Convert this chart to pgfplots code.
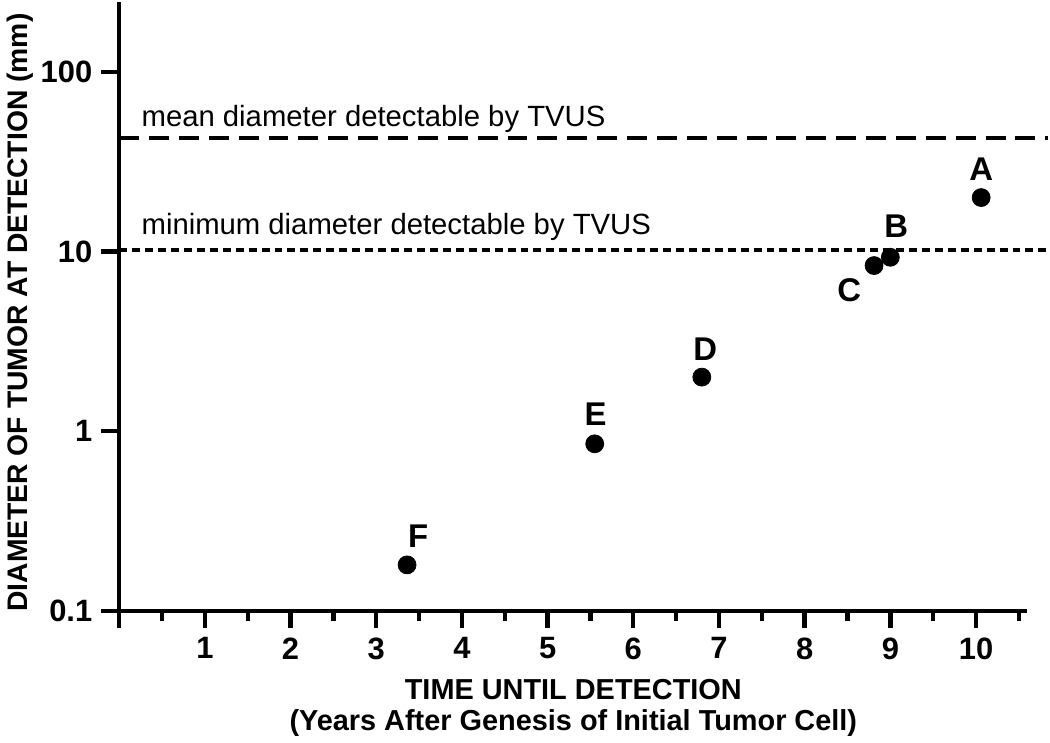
\documentclass[border=0pt]{standalone}
\usepackage{fontspec}
\setmainfont{Liberation Sans}
\usepackage{pgfplots}
\pgfplotsset{compat=1.18}

\begin{document}
\begin{tikzpicture}
\begin{axis}[
  scale only axis,width=456pt,height=305.5pt,
  xmin=0,xmax=10.6,ymin=0.1,ymax=245,
  ymode=log,log basis y=10,
  axis x line*=bottom,axis y line*=left,
  axis line style={line width=2.2pt},
  every tick/.style={line width=2.2pt,black},
  tick align=outside,
  major tick length=9pt,minor tick length=5pt,
  xtick={0,1,...,10},xticklabels={,1,2,3,4,5,6,7,8,9,10},
  minor xtick={0.5,1.5,...,10.5},
  ytick={0.1,1,10,100},yticklabels={0.1,1,10,100},
  yminorticks=false,
  /pgf/number format/assume math mode=true,
  ticklabel style={font=\fontsize{15.5}{18}\selectfont\bfseries},
  xticklabel style={yshift=-1pt},
  yticklabel style={xshift=-1pt},
  xlabel={TIME UNTIL DETECTION\\(Years After Genesis of Initial Tumor Cell)},
  xlabel style={font=\fontsize{14.5}{15.5}\selectfont\bfseries,align=center,yshift=-3pt},
  ylabel={DIAMETER OF TUMOR AT DETECTION (mm)},
  ylabel shift=-3pt,
  ylabel style={font=\fontsize{14.2}{16}\selectfont\bfseries,at={(ticklabel cs:0.49)}},
  clip=false]
\addplot[black,line width=2pt,dash pattern=on 10pt off 5pt] coordinates {(0,43) (10.84,43)};
\addplot[black,line width=2pt,dash pattern=on 4pt off 2.5pt] coordinates {(0,10.26) (10.84,10.26)};
\addplot[only marks,mark=*,mark size=4.5pt,black] coordinates {
  (10.06,20) (9.0,9.3) (8.81,8.36) (6.80,2.0) (5.55,0.85) (3.36,0.18)};
\node[anchor=west,font=\fontsize{14.7}{16}\selectfont] at (axis cs:0.18,55) {mean diameter detectable by TVUS};
\node[anchor=west,font=\fontsize{14.7}{16}\selectfont] at (axis cs:0.18,13.8) {minimum diameter detectable by TVUS};
\begin{scope}[every node/.style={font=\fontsize{16.5}{18}\selectfont\bfseries}]
\node at (axis cs:10.06,28.9) {A};
\node at (axis cs:9.07,13.8) {B};
\node at (axis cs:8.52,6.07) {C};
\node at (axis cs:6.84,2.85) {D};
\node at (axis cs:5.56,1.24) {E};
\node at (axis cs:3.49,0.261) {F};
\end{scope}
\end{axis}
\end{tikzpicture}
\end{document}
